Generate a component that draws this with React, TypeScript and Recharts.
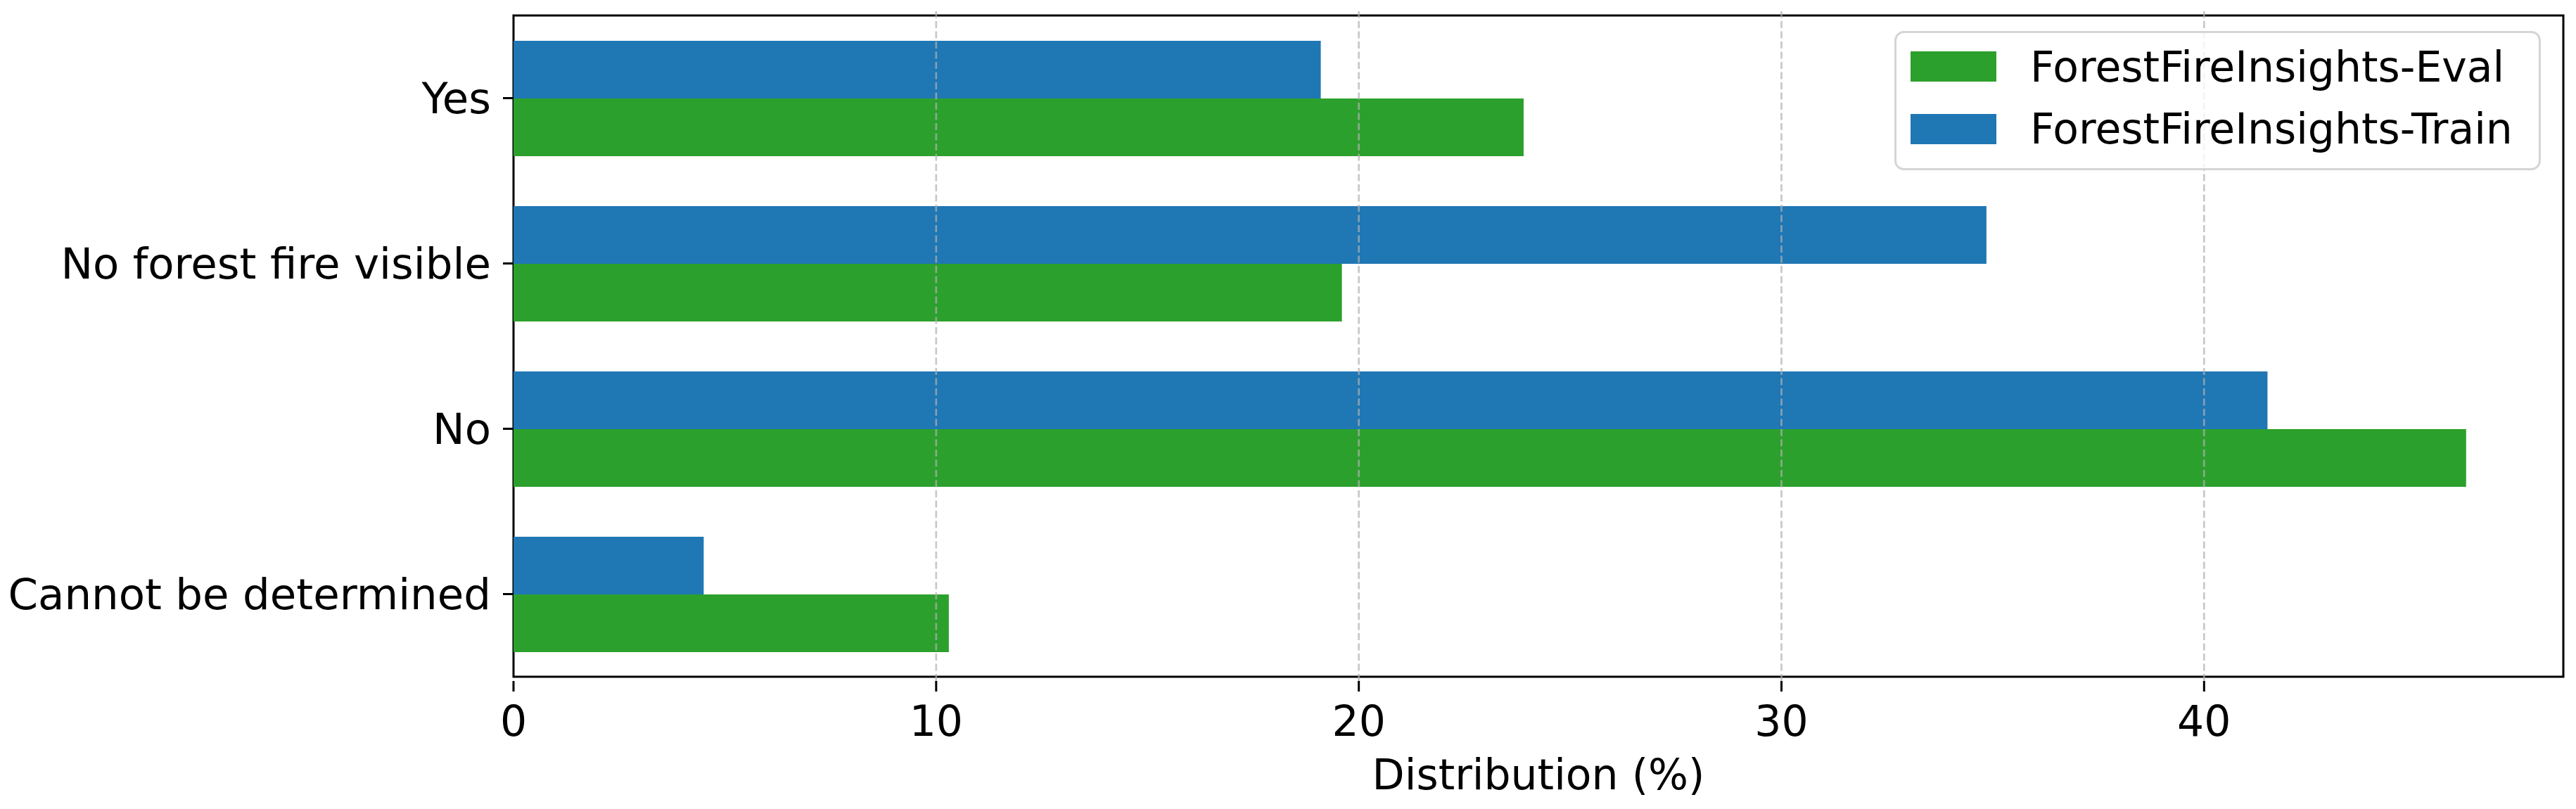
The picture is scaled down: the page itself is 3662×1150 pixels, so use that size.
import React from 'react';
import { BarChart, Bar, XAxis, YAxis, Legend, ReferenceLine, ReferenceArea } from 'recharts';

const categories = ['Yes', 'No forest fire visible', 'No', 'Cannot be determined'];
const trainValues = [19.1, 34.85, 41.5, 4.5];
const evalValues = [23.9, 19.6, 46.2, 10.3];
const xTicks = [0, 10, 20, 30, 40];
const gridTicks = [10, 20, 30, 40];
const legendItems = [
  { name: 'ForestFireInsights-Eval', color: '#2ca02c' },
  { name: 'ForestFireInsights-Train', color: '#1f77b4' },
];

const data = categories.map((c, i) => ({ category: c, train: trainValues[i], eval: evalValues[i] }));

const FONT = '"DejaVu Sans", sans-serif';

const LegendBox = () => (
  <svg width={919} height={198} style={{ display: 'block' }}>
    <rect x={1.5} y={1.5} width={916} height={195} rx={12} ry={12} fill="rgba(255,255,255,0.8)" stroke="#d5d5d5" strokeWidth={3} />
    {legendItems.map((it, i) => (
      <g key={it.name}>
        <rect x={23} y={29 + i * 89} width={122} height={43} fill={it.color} />
        <text x={193} y={72 + i * 88} fontFamily={FONT} fontSize={60} fill="#000">
          {it.name}
        </text>
      </g>
    ))}
  </svg>
);

export default function App() {
  return (
    <div style={{ width: 3646, height: 1134, fontFamily: FONT }}>
      <BarChart
        width={3646}
        height={1134}
        data={data}
        layout="vertical"
        margin={{ top: 8, right: 10, left: 0, bottom: 0 }}
        barGap={0}
      >
        <XAxis
          type="number"
          domain={[0, 48.5]}
          ticks={xTicks}
          allowDataOverflow
          height={174}
          axisLine={false}
          tickLine={{ stroke: '#000', strokeWidth: 3 }}
          tickSize={15}
          tickMargin={20}
          tick={{ fontSize: 60, fill: '#000', fontFamily: FONT }}
          label={{ value: 'Distribution (%)', position: 'insideBottom', offset: 20, fontSize: 60, fill: '#000', fontFamily: FONT }}
        />
        <YAxis
          type="category"
          dataKey="category"
          width={722}
          padding={{ top: 6, bottom: 6 }}
          axisLine={false}
          tickLine={{ stroke: '#000', strokeWidth: 3 }}
          tickSize={15}
          tickMargin={17}
          tick={{ fontSize: 61, fill: '#000', fontFamily: FONT }}
          interval={0}
        />
        <Bar dataKey="train" name="ForestFireInsights-Train" fill="#1f77b4" barSize={82} isAnimationActive={false} />
        <Bar dataKey="eval" name="ForestFireInsights-Eval" fill="#2ca02c" barSize={82} isAnimationActive={false} />
        {gridTicks.map((t) => (
          <ReferenceLine key={t} x={t} stroke="#b0b0b0" strokeOpacity={0.7} strokeWidth={2.7} strokeDasharray="10 4.5" />
        ))}
        <ReferenceArea x1={0} x2={48.5} fill="none" fillOpacity={0} stroke="#000" strokeWidth={3} ifOverflow="visible" />
        <Legend
          layout="horizontal"
          verticalAlign="middle"
          align="center"
          content={() => <LegendBox />}
          wrapperStyle={{ position: 'absolute', left: 2685, top: 36, width: 919, height: 198 }}
        />
      </BarChart>
    </div>
  );
}
